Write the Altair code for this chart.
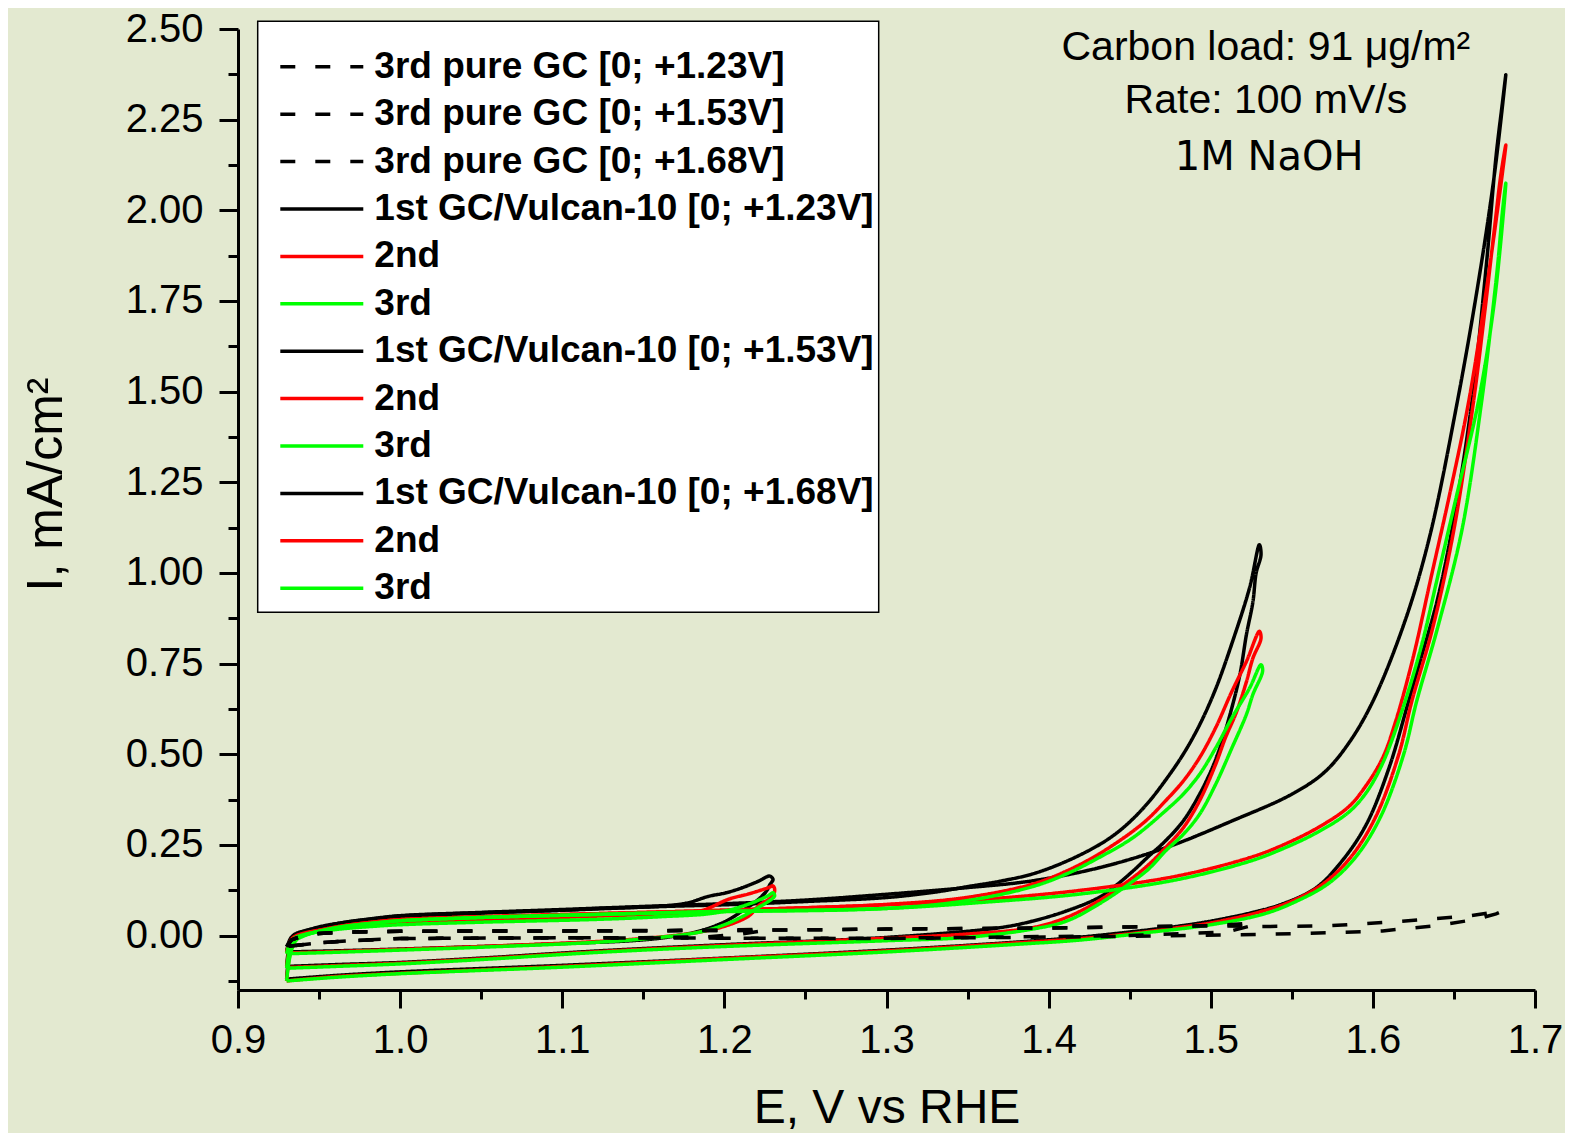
import altair as alt
import pandas as pd

# ---------------- data ----------------
legend_labels = [
    "3rd pure GC [0; +1.23V]", "3rd pure GC [0; +1.53V]", "3rd pure GC [0; +1.68V]",
    "1st GC/Vulcan-10 [0; +1.23V]", "2nd", "3rd",
    "1st GC/Vulcan-10 [0; +1.53V]", "2nd\u200b", "3rd\u200b",
    "1st GC/Vulcan-10 [0; +1.68V]", "2nd\u200b\u200b", "3rd\u200b\u200b",
]
series_colors = ["#000000", "#000000", "#000000",
                 "#000000", "#ff0000", "#00ff00",
                 "#000000", "#ff0000", "#00ff00",
                 "#000000", "#ff0000", "#00ff00"]
series_dashes = [[15, 20], [15, 20], [15, 20]] + [[1, 0]] * 9

# pure glassy carbon (dashed)
gc123_E = [0.930, 0.933, 0.940, 0.950, 0.970, 1.000, 1.100, 1.150, 1.200, 1.225,
           1.222, 1.210, 1.190, 1.150, 1.100, 1.000, 0.970, 0.950, 0.930]
gc123_I = [-0.030, -0.012, 0.000, 0.006, 0.010, 0.012, 0.013, 0.014, 0.015, 0.018,
           0.012, 0.004, -0.003, -0.006, -0.006, -0.008, -0.014, -0.020, -0.030]
gc153_E = [0.930, 0.933, 0.940, 0.950, 0.970, 1.000, 1.100, 1.200, 1.300, 1.400, 1.450, 1.500, 1.527,
           1.524, 1.510, 1.450, 1.350, 1.300, 1.200, 1.100, 1.000, 0.970, 0.950, 0.930]
gc153_I = [-0.030, -0.012, 0.000, 0.006, 0.010, 0.012, 0.013, 0.014, 0.018, 0.021, 0.024, 0.027, 0.035,
           0.026, 0.010, 0.000, -0.005, -0.007, -0.007, -0.006, -0.008, -0.014, -0.020, -0.030]
gc168_E = [0.930, 0.933, 0.940, 0.950, 0.970, 1.000, 1.100, 1.200, 1.300, 1.400, 1.450, 1.500, 1.530,
           1.573, 1.616, 1.659, 1.680,
           1.676, 1.664, 1.640, 1.606, 1.573, 1.530, 1.450, 1.350, 1.300, 1.200, 1.100, 1.000,
           0.970, 0.950, 0.930]
gc168_I = [-0.030, -0.012, 0.000, 0.006, 0.010, 0.012, 0.013, 0.014, 0.018, 0.021, 0.024, 0.027, 0.025,
           0.027, 0.039, 0.054, 0.068,
           0.060, 0.045, 0.028, 0.013, 0.008, 0.003, -0.002, -0.006, -0.008, -0.007, -0.006, -0.008,
           -0.014, -0.020, -0.030]

# GC/Vulcan-10, window [0; +1.23V]
b123_E = [0.930, 0.931, 0.933, 0.936, 0.940, 0.950, 0.965, 0.985, 1.000, 1.050, 1.100, 1.123, 1.164,
          1.178, 1.190, 1.201, 1.211, 1.221, 1.228,
          1.230, 1.228, 1.226, 1.220, 1.211, 1.201, 1.185, 1.164, 1.143, 1.100, 1.050, 1.000, 0.960, 0.930]
b123_I = [-0.045, -0.022, -0.004, 0.006, 0.012, 0.022, 0.034, 0.045, 0.051, 0.062, 0.070, 0.075, 0.082,
          0.091, 0.108, 0.118, 0.132, 0.150, 0.164,
          0.155, 0.140, 0.123, 0.096, 0.068, 0.040, 0.013, -0.005, -0.014, -0.022, -0.030, -0.037, -0.042, -0.045]
r123_E = [0.930, 0.931, 0.933, 0.936, 0.940, 0.950, 0.965, 0.985, 1.000, 1.050, 1.123, 1.160, 1.185,
          1.203, 1.215, 1.227, 1.230,
          1.231, 1.230, 1.221, 1.215, 1.201, 1.185, 1.160, 1.123, 1.050, 1.000, 0.960, 0.930]
r123_I = [-0.048, -0.028, -0.010, 0.000, 0.006, 0.015, 0.024, 0.031, 0.035, 0.042, 0.054, 0.060, 0.068,
          0.101, 0.115, 0.132, 0.137,
          0.128, 0.110, 0.082, 0.054, 0.027, 0.010, -0.004, -0.016, -0.030, -0.038, -0.044, -0.048]
g123_E = [0.930, 0.931, 0.933, 0.936, 0.940, 0.950, 0.965, 0.985, 1.000, 1.050, 1.123, 1.160, 1.195,
          1.215, 1.227, 1.230,
          1.231, 1.229, 1.220, 1.210, 1.200, 1.185, 1.160, 1.123, 1.050, 1.000, 0.960, 0.930]
g123_I = [-0.050, -0.032, -0.014, -0.004, 0.002, 0.011, 0.019, 0.026, 0.030, 0.037, 0.045, 0.052, 0.063,
          0.087, 0.110, 0.118,
          0.110, 0.100, 0.075, 0.050, 0.030, 0.010, -0.005, -0.018, -0.032, -0.040, -0.046, -0.050]

# GC/Vulcan-10, window [0; +1.53V]
b153_E = [0.930, 0.931, 0.933, 0.936, 0.940, 0.950, 0.965, 0.985, 1.000, 1.050, 1.100, 1.160, 1.200,
          1.250, 1.300, 1.330, 1.350, 1.370, 1.390, 1.411, 1.431, 1.442, 1.452, 1.462, 1.472, 1.483,
          1.493, 1.503, 1.513, 1.524, 1.530,
          1.531, 1.528, 1.526, 1.522, 1.518, 1.513, 1.507, 1.501, 1.493, 1.483, 1.472, 1.462, 1.452,
          1.442, 1.431, 1.411, 1.390, 1.370, 1.300, 1.200, 1.123, 1.050, 1.000, 0.960, 0.930]
b153_I = [-0.085, -0.045, -0.012, 0.002, 0.010, 0.024, 0.036, 0.047, 0.054, 0.063, 0.070, 0.080, 0.085,
          0.094, 0.105, 0.120, 0.135, 0.150, 0.170, 0.205, 0.250, 0.283, 0.322, 0.370, 0.428, 0.500,
          0.580, 0.680, 0.805, 0.960, 1.078,
          1.050, 1.000, 0.920, 0.830, 0.720, 0.628, 0.536, 0.463, 0.389, 0.316, 0.261, 0.220, 0.178,
          0.140, 0.105, 0.068, 0.040, 0.022, -0.005, -0.025, -0.042, -0.062, -0.074, -0.080, -0.085]
r153_E = [0.930, 0.931, 0.933, 0.936, 0.940, 0.950, 0.965, 0.985, 1.000, 1.050, 1.100, 1.160, 1.200,
          1.300, 1.349, 1.390, 1.411, 1.431, 1.452, 1.462, 1.472, 1.483, 1.493, 1.503, 1.513, 1.522, 1.530,
          1.531, 1.526, 1.522, 1.516, 1.509, 1.503, 1.493, 1.483, 1.472, 1.462, 1.452, 1.431, 1.411,
          1.390, 1.349, 1.300, 1.200, 1.123, 1.050, 1.000, 0.960, 0.930]
r153_I = [-0.088, -0.055, -0.025, -0.008, 0.002, 0.014, 0.027, 0.038, 0.044, 0.052, 0.058, 0.065, 0.070,
          0.086, 0.105, 0.142, 0.178, 0.225, 0.288, 0.325, 0.371, 0.426, 0.490, 0.573, 0.673, 0.756, 0.839,
          0.820, 0.765, 0.700, 0.618, 0.545, 0.472, 0.371, 0.297, 0.242, 0.197, 0.160, 0.096, 0.050,
          0.022, 0.004, -0.007, -0.027, -0.044, -0.064, -0.076, -0.083, -0.088]
g153_E = [0.930, 0.931, 0.933, 0.936, 0.940, 0.950, 0.965, 0.985, 1.000, 1.050, 1.100, 1.160, 1.200,
          1.300, 1.349, 1.390, 1.411, 1.431, 1.452, 1.472, 1.483, 1.493, 1.503, 1.513, 1.524, 1.531,
          1.532, 1.526, 1.522, 1.513, 1.503, 1.493, 1.483, 1.472, 1.462, 1.452, 1.431, 1.411, 1.390,
          1.349, 1.300, 1.200, 1.123, 1.050, 1.000, 0.960, 0.930]
g153_I = [-0.090, -0.058, -0.028, -0.010, 0.000, 0.012, 0.025, 0.035, 0.041, 0.050, 0.056, 0.062, 0.066,
          0.075, 0.096, 0.135, 0.170, 0.215, 0.270, 0.344, 0.390, 0.444, 0.517, 0.600, 0.683, 0.747,
          0.730, 0.665, 0.610, 0.517, 0.417, 0.334, 0.279, 0.233, 0.185, 0.150, 0.087, 0.040, 0.018,
          -0.005, -0.014, -0.030, -0.046, -0.066, -0.078, -0.085, -0.090]

# GC/Vulcan-10, window [0; +1.68V]
b168_E = [0.930, 0.931, 0.933, 0.936, 0.940, 0.950, 0.965, 0.985, 1.000, 1.050, 1.100, 1.160, 1.200,
          1.250, 1.300, 1.349, 1.390, 1.431, 1.472, 1.513, 1.550, 1.570, 1.585, 1.600, 1.620, 1.635,
          1.652, 1.665, 1.675, 1.682,
          1.680, 1.676, 1.670, 1.661, 1.650, 1.640, 1.630, 1.622, 1.610, 1.596, 1.581, 1.565, 1.544,
          1.524, 1.500, 1.480, 1.450, 1.420, 1.380, 1.300, 1.200, 1.100, 1.000, 0.960, 0.930]
b168_I = [-0.120, -0.070, -0.020, 0.000, 0.008, 0.022, 0.036, 0.048, 0.055, 0.064, 0.072, 0.082, 0.088,
          0.098, 0.114, 0.132, 0.151, 0.187, 0.242, 0.316, 0.390, 0.450, 0.530, 0.646, 0.870, 1.100,
          1.470, 1.800, 2.100, 2.374,
          2.300, 2.150, 1.850, 1.470, 1.150, 0.930, 0.770, 0.646, 0.463, 0.307, 0.206, 0.132, 0.087,
          0.062, 0.040, 0.026, 0.010, -0.004, -0.018, -0.040, -0.062, -0.082, -0.100, -0.110, -0.120]
r168_E = [0.930, 0.931, 0.933, 0.936, 0.940, 0.950, 0.965, 0.985, 1.000, 1.050, 1.100, 1.160, 1.200,
          1.300, 1.360, 1.420, 1.480, 1.524, 1.542, 1.565, 1.585, 1.596, 1.606, 1.614, 1.625, 1.636,
          1.648, 1.659, 1.670, 1.682,
          1.679, 1.675, 1.669, 1.662, 1.650, 1.637, 1.624, 1.616, 1.602, 1.587, 1.570, 1.550, 1.530,
          1.500, 1.480, 1.450, 1.420, 1.380, 1.300, 1.200, 1.100, 1.000, 0.960, 0.930]
r168_I = [-0.125, -0.080, -0.035, -0.010, 0.000, 0.014, 0.027, 0.038, 0.044, 0.052, 0.058, 0.065, 0.070,
          0.085, 0.100, 0.125, 0.165, 0.215, 0.245, 0.295, 0.355, 0.415, 0.490, 0.590, 0.770, 0.990,
          1.230, 1.470, 1.780, 2.180,
          2.100, 1.950, 1.720, 1.470, 1.120, 0.850, 0.646, 0.500, 0.330, 0.220, 0.145, 0.095, 0.065,
          0.035, 0.022, 0.005, -0.008, -0.020, -0.042, -0.063, -0.085, -0.104, -0.113, -0.125]
g168_E = [0.930, 0.931, 0.933, 0.936, 0.940, 0.950, 0.965, 0.985, 1.000, 1.050, 1.100, 1.160, 1.200,
          1.300, 1.360, 1.420, 1.480, 1.524, 1.542, 1.565, 1.585, 1.596, 1.606, 1.618, 1.630, 1.640,
          1.652, 1.665, 1.675, 1.682,
          1.680, 1.677, 1.672, 1.667, 1.655, 1.640, 1.627, 1.619, 1.605, 1.590, 1.573, 1.553, 1.533,
          1.500, 1.460, 1.420, 1.380, 1.300, 1.200, 1.100, 1.000, 0.960, 0.930]
g168_I = [-0.125, -0.085, -0.040, -0.012, -0.002, 0.012, 0.025, 0.035, 0.041, 0.050, 0.056, 0.063, 0.067,
          0.075, 0.092, 0.115, 0.155, 0.205, 0.235, 0.283, 0.340, 0.395, 0.475, 0.620, 0.800, 0.990,
          1.220, 1.470, 1.750, 2.075,
          2.000, 1.850, 1.650, 1.470, 1.120, 0.850, 0.646, 0.500, 0.330, 0.220, 0.145, 0.095, 0.060,
          0.030, 0.008, -0.012, -0.024, -0.045, -0.066, -0.087, -0.105, -0.115, -0.125]

x_tick_values = [0.9, 0.95, 1.0, 1.05, 1.1, 1.15, 1.2, 1.25, 1.3, 1.35, 1.4, 1.45, 1.5, 1.55,
                 1.6, 1.65, 1.7]
y_tick_values = [-0.125, 0.0, 0.125, 0.25, 0.375, 0.5, 0.625, 0.75, 0.875, 1.0, 1.125, 1.25,
                 1.375, 1.5, 1.625, 1.75, 1.875, 2.0, 2.125, 2.25, 2.375, 2.5]

note_text = ["Carbon load: 91 \u03bcg/m\u00b2", "Rate: 100 mV/s"]
note_E = [1.534, 1.534]
note_I = [2.447, 2.302]
note2_text = ["1M NaOH"]
note2_E = [1.536]
note2_I = [2.144]

# ---------------- assemble ----------------
solid_series = [  # draw order: blacks, reds, greens
    (legend_labels[3], b123_E, b123_I), (legend_labels[6], b153_E, b153_I), (legend_labels[9], b168_E, b168_I),
    (legend_labels[4], r123_E, r123_I), (legend_labels[7], r153_E, r153_I), (legend_labels[10], r168_E, r168_I),
    (legend_labels[5], g123_E, g123_I), (legend_labels[8], g153_E, g153_I), (legend_labels[11], g168_E, g168_I),
]
dashed_series = [
    (legend_labels[0], gc123_E, gc123_I), (legend_labels[1], gc153_E, gc153_I), (legend_labels[2], gc168_E, gc168_I),
]


def frame(series):
    rows = []
    for name, es, is_ in series:
        for k, (e, i) in enumerate(zip(es, is_)):
            rows.append({"series": name, "idx": k, "E": e, "I": i})
    return pd.DataFrame(rows)


solid_df = frame(solid_series)
dashed_df = frame(dashed_series)

FONT = "Liberation Sans"

x_major = "abs(datum.value*10 - round(datum.value*10)) < 0.001"
y_major = "abs(datum.value*4 - round(datum.value*4)) < 0.001"

x_enc = alt.X(
    "E:Q",
    scale=alt.Scale(domain=[0.9, 1.7], nice=False, zero=False),
    axis=alt.Axis(
        values=x_tick_values,
        labelExpr=f"{x_major} ? format(datum.value, '.1f') : ''",
        tickSize={"condition": {"test": x_major, "value": 18}, "value": 9},
        tickWidth=3, tickColor="black", domainWidth=3, domainColor="black",
        labelFont=FONT, labelFontSize=40, labelColor="black", labelPadding=12,
        labelOverlap=False, labelFlush=False, grid=False,
        title="E, V vs RHE", titleFont=FONT, titleFontSize=48, titleFontWeight="normal",
        titleColor="black", titlePadding=24,
    ),
)
y_enc = alt.Y(
    "I:Q",
    scale=alt.Scale(domain=[-0.15, 2.5], nice=False, zero=False),
    axis=alt.Axis(
        values=y_tick_values,
        labelExpr=f"{y_major} ? format(datum.value, '.2f') : ''",
        tickSize={"condition": {"test": y_major, "value": 19}, "value": 10},
        tickWidth=3, tickColor="black", domainWidth=3, domainColor="black",
        labelFont=FONT, labelFontSize=40, labelColor="black", labelPadding=16,
        labelOverlap=False, labelFlush=False, grid=False,
        title="I, mA/cm\u00b2", titleFont=FONT, titleFontSize=50, titleFontWeight="normal",
        titleColor="black", titlePadding=54, titleY=455,
    ),
)

legend = alt.Legend(
    orient="none", legendX=19.7, legendY=-7.7,
    title=" ", titleFontSize=10, titlePadding=12,
    fillColor="white", strokeColor="black", padding=5,
    symbolType="stroke", symbolSize=6889, symbolStrokeWidth=3.5, symbolOffset=15.6,
    labelOffset=9, labelFont=FONT, labelFontWeight="bold", labelFontSize=37,
    labelColor="black", labelLimit=900, clipHeight=37, rowPadding=9.4,
)

color_enc = alt.Color("series:N", scale=alt.Scale(domain=legend_labels, range=series_colors), legend=legend)
dash_enc = alt.StrokeDash("series:N", scale=alt.Scale(domain=legend_labels, range=series_dashes), legend=legend)

solid = alt.Chart(solid_df).mark_line(strokeWidth=3.5, interpolate="catmull-rom").encode(
    x=x_enc, y=y_enc, color=color_enc, strokeDash=dash_enc, order=alt.Order("idx:Q"),
)
dashed = alt.Chart(dashed_df).mark_line(strokeWidth=3.5).encode(
    x=x_enc, y=y_enc, color=color_enc, strokeDash=dash_enc, order=alt.Order("idx:Q"),
)

notes = alt.Chart(pd.DataFrame({"t": note_text, "E": note_E, "I": note_I})).mark_text(
    font=FONT, fontSize=41, align="center", baseline="middle", color="black"
).encode(x="E:Q", y="I:Q", text="t:N")
notes2 = alt.Chart(pd.DataFrame({"t": note2_text, "E": note2_E, "I": note2_I})).mark_text(
    font="DejaVu Sans", fontSize=40, align="center", baseline="middle", color="black"
).encode(x="E:Q", y="I:Q", text="t:N")

chart = alt.layer(solid, dashed, notes, notes2).properties(
    width=1297, height=961,
    padding={"left": 230, "top": 21, "right": 30, "bottom": 143},
    autosize=alt.AutoSizeParams(type="none"),
    background="#e3e9d0",
).configure_view(strokeWidth=0).configure_legend(strokeWidth=1.5)

chart.save("out.html", embed_options={"renderer": "svg", "actions": False})
